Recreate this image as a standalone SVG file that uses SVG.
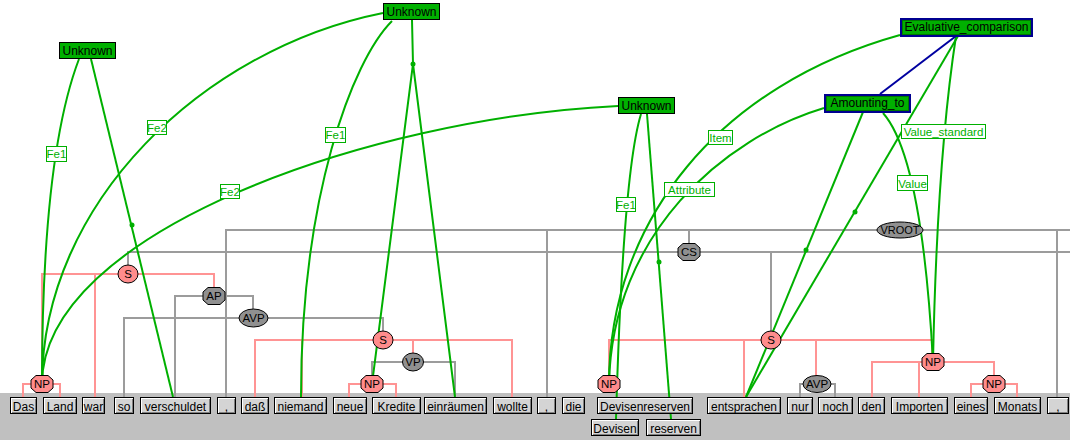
<svg xmlns="http://www.w3.org/2000/svg" xmlns:xlink="http://www.w3.org/1999/xlink" width="1070" height="440" viewBox="0 0 1070 440">
<style>
text{font-family:"Liberation Sans",Arial,sans-serif;text-anchor:middle}
.gl{stroke:#9c9c9c;stroke-width:2;fill:none}
.pl{stroke:#ff9494;stroke-width:2;fill:none}
.fe{stroke:#00b000;stroke-width:2;fill:none}
.dot{fill:#00b000}
.wo{fill:#fff;stroke:#000;stroke-width:1}
.ws{fill:#808080}
.wi{fill:#d4d4d4}
.wt{font-size:12px;fill:#000}
.pn{fill:#ff8c8c;stroke:#000;stroke-width:1}
.gn{fill:#909090;stroke:#000;stroke-width:1}
.nt{font-size:11.5px;fill:#000}
.fb{fill:#00b000;stroke:#000;stroke-width:1}
.fbb{fill:#00b000;stroke:#000090;stroke-width:2}
.fbi{fill:none;stroke:#007800;stroke-width:1}
.ft{font-size:12px;fill:#000}
.lb{fill:#fff;stroke:#00b000;stroke-width:1}
.lt{font-size:11.5px;fill:#00b000}
</style>
<defs>
<polygon id="oct" points="-6,-8.5 6,-8.5 11,-4 11,4 6,8.5 -6,8.5 -11,4 -11,-4"/>
</defs>
<rect x="0" y="0" width="1070" height="440" fill="#fff"/>
<rect x="0" y="393" width="1070" height="47" fill="#c0c0c0"/>

<g id="tree-edges">
<path class="gl" d="M226,397 V230 H1070 M547,230 V397 M1057,230 V397"/>
<path class="gl" d="M689,230 V252 M128,274 V252 H1070 M771,252 V340"/>
<path class="gl" d="M175,397 V296 H253 V318 M124,397 V318 H383 V340"/>
<path class="gl" d="M372,384 V362 H455 V397"/>
<path class="gl" d="M800,397 V384 H835 V397"/>
<path class="pl" d="M42,384 V274 H214 V296 M95,274 V397"/>
<path class="pl" d="M23,397 V384 H60 V397"/>
<path class="pl" d="M255,397 V340 H512 V397 M302,340 V397 M413,340 V362"/>
<path class="pl" d="M349,397 V384 H396 V397"/>
<path class="pl" d="M609,384 V340 H932 V362 M744,340 V397 M816,340 V384"/>
<path class="pl" d="M872,397 V362 H994 V384 M919,362 V397"/>
<path class="pl" d="M971,397 V384 H1017 V397"/>
</g>

<g id="frame-edges">
<path class="fe" d="M79,59 Q42,156 42,384"/>
<path class="fe" d="M91,59 L173,397"/>
<circle class="dot" cx="132" cy="225" r="2.5"/>
<path class="fe" d="M383,13 C203,49 42,203 42,384"/>
<path class="fe" d="M392,21 C352,61 301,197 301,397"/>
<path class="fe" d="M412,20 L413,64 L372,384 M413,64 L455,397"/>
<circle class="dot" cx="413" cy="64" r="2.5"/>
<path class="fe" d="M618,106 C368,118 42,233 42,384"/>
<path class="fe" d="M641,114 Q623,173 616,419"/>
<path class="fe" d="M647,114 L671,419"/>
<circle class="dot" cx="659" cy="262" r="2.5"/>
<path class="fe" d="M824,108 C724,138 612,233 609,384"/>
<path class="fe" d="M900,35 C720,85 609,220 609,384"/>
<path class="fe" d="M863,112 L746,397"/>
<circle class="dot" cx="806" cy="250" r="2.5"/>
<path class="fe" d="M958,36 L746,397"/>
<circle class="dot" cx="855" cy="212" r="2.5"/>
<path class="fe" d="M883,113 Q922,157 933,362"/>
<path class="fe" d="M956,36 Q937,160 933,362"/>
<path d="M956,36 L880,94" stroke="#0000a0" stroke-width="2" fill="none"/>
</g>

<g id="words">
<g id="w-Das"><rect class="wo" x="10.5" y="397.5" width="26" height="16"/><rect class="ws" x="12" y="399" width="24" height="14"/><rect class="wi" x="12" y="399" width="23" height="13"/><text class="wt" x="23.5" y="410.5">Das</text></g>
<g id="w-Land"><rect class="wo" x="43.5" y="397.5" width="33" height="16"/><rect class="ws" x="45" y="399" width="31" height="14"/><rect class="wi" x="45" y="399" width="30" height="13"/><text class="wt" x="60" y="410.5">Land</text></g>
<g id="w-war"><rect class="wo" x="82.5" y="397.5" width="22" height="16"/><rect class="ws" x="84" y="399" width="20" height="14"/><rect class="wi" x="84" y="399" width="19" height="13"/><text class="wt" x="93.5" y="410.5">war</text></g>
<g id="w-so"><rect class="wo" x="114.5" y="397.5" width="19" height="16"/><rect class="ws" x="116" y="399" width="17" height="14"/><rect class="wi" x="116" y="399" width="16" height="13"/><text class="wt" x="124" y="410.5">so</text></g>
<g id="w-verschuldet"><rect class="wo" x="140.5" y="397.5" width="70" height="16"/><rect class="ws" x="142" y="399" width="68" height="14"/><rect class="wi" x="142" y="399" width="67" height="13"/><text class="wt" x="175.5" y="410.5">verschuldet</text></g>
<g id="w-comma1"><rect class="wo" x="217.5" y="397.5" width="18" height="16"/><rect class="ws" x="219" y="399" width="16" height="14"/><rect class="wi" x="219" y="399" width="15" height="13"/><text class="wt" x="226.5" y="410.5">,</text></g>
<g id="w-dass"><rect class="wo" x="241.5" y="397.5" width="27" height="16"/><rect class="ws" x="243" y="399" width="25" height="14"/><rect class="wi" x="243" y="399" width="24" height="13"/><text class="wt" x="255" y="410.5">daß</text></g>
<g id="w-niemand"><rect class="wo" x="274.5" y="397.5" width="52" height="16"/><rect class="ws" x="276" y="399" width="50" height="14"/><rect class="wi" x="276" y="399" width="49" height="13"/><text class="wt" x="300.5" y="410.5">niemand</text></g>
<g id="w-neue"><rect class="wo" x="333.5" y="397.5" width="33" height="16"/><rect class="ws" x="335" y="399" width="31" height="14"/><rect class="wi" x="335" y="399" width="30" height="13"/><text class="wt" x="350" y="410.5">neue</text></g>
<g id="w-Kredite"><rect class="wo" x="372.5" y="397.5" width="48" height="16"/><rect class="ws" x="374" y="399" width="46" height="14"/><rect class="wi" x="374" y="399" width="45" height="13"/><text class="wt" x="396.5" y="410.5">Kredite</text></g>
<g id="w-einraeumen"><rect class="wo" x="424.5" y="397.5" width="62" height="16"/><rect class="ws" x="426" y="399" width="60" height="14"/><rect class="wi" x="426" y="399" width="59" height="13"/><text class="wt" x="455.5" y="410.5">einräumen</text></g>
<g id="w-wollte"><rect class="wo" x="493.5" y="397.5" width="38" height="16"/><rect class="ws" x="495" y="399" width="36" height="14"/><rect class="wi" x="495" y="399" width="35" height="13"/><text class="wt" x="512.5" y="410.5">wollte</text></g>
<g id="w-comma2"><rect class="wo" x="537.5" y="397.5" width="18" height="16"/><rect class="ws" x="539" y="399" width="16" height="14"/><rect class="wi" x="539" y="399" width="15" height="13"/><text class="wt" x="546.5" y="410.5">,</text></g>
<g id="w-die"><rect class="wo" x="562.5" y="397.5" width="22" height="16"/><rect class="ws" x="564" y="399" width="20" height="14"/><rect class="wi" x="564" y="399" width="19" height="13"/><text class="wt" x="573.5" y="410.5">die</text></g>
<g id="w-Devisenreserven"><rect class="wo" x="597.5" y="397.5" width="95" height="16"/><rect class="ws" x="599" y="399" width="93" height="14"/><rect class="wi" x="599" y="399" width="92" height="13"/><text class="wt" x="645" y="410.5">Devisenreserven</text></g>
<g id="w-entsprachen"><rect class="wo" x="707.5" y="397.5" width="73" height="16"/><rect class="ws" x="709" y="399" width="71" height="14"/><rect class="wi" x="709" y="399" width="70" height="13"/><text class="wt" x="744" y="410.5">entsprachen</text></g>
<g id="w-nur"><rect class="wo" x="787.5" y="397.5" width="25" height="16"/><rect class="ws" x="789" y="399" width="23" height="14"/><rect class="wi" x="789" y="399" width="22" height="13"/><text class="wt" x="800" y="410.5">nur</text></g>
<g id="w-noch"><rect class="wo" x="818.5" y="397.5" width="34" height="16"/><rect class="ws" x="820" y="399" width="32" height="14"/><rect class="wi" x="820" y="399" width="31" height="13"/><text class="wt" x="835.5" y="410.5">noch</text></g>
<g id="w-den"><rect class="wo" x="858.5" y="397.5" width="26" height="16"/><rect class="ws" x="860" y="399" width="24" height="14"/><rect class="wi" x="860" y="399" width="23" height="13"/><text class="wt" x="871.5" y="410.5">den</text></g>
<g id="w-Importen"><rect class="wo" x="891.5" y="397.5" width="56" height="16"/><rect class="ws" x="893" y="399" width="54" height="14"/><rect class="wi" x="893" y="399" width="53" height="13"/><text class="wt" x="919.5" y="410.5">Importen</text></g>
<g id="w-eines"><rect class="wo" x="954.5" y="397.5" width="33" height="16"/><rect class="ws" x="956" y="399" width="31" height="14"/><rect class="wi" x="956" y="399" width="30" height="13"/><text class="wt" x="971" y="410.5">eines</text></g>
<g id="w-Monats"><rect class="wo" x="994.5" y="397.5" width="46" height="16"/><rect class="ws" x="996" y="399" width="44" height="14"/><rect class="wi" x="996" y="399" width="43" height="13"/><text class="wt" x="1017.5" y="410.5">Monats</text></g>
<g id="w-comma3"><rect class="wo" x="1047.5" y="397.5" width="21" height="16"/><rect class="ws" x="1049" y="399" width="19" height="14"/><rect class="wi" x="1049" y="399" width="18" height="13"/><text class="wt" x="1058" y="410.5">,</text></g>
<g id="w-Devisen"><rect class="wo" x="591.5" y="419.5" width="47" height="16"/><rect class="ws" x="593" y="421" width="45" height="14"/><rect class="wi" x="593" y="421" width="44" height="13"/><text class="wt" x="615" y="432.5">Devisen</text></g>
<g id="w-reserven"><rect class="wo" x="646.5" y="419.5" width="54" height="16"/><rect class="ws" x="648" y="421" width="52" height="14"/><rect class="wi" x="648" y="421" width="51" height="13"/><text class="wt" x="673.5" y="432.5">reserven</text></g>
</g>

<g id="n-NP1"><use href="#oct" xlink:href="#oct" class="pn" x="42" y="384"/><text class="nt" x="42" y="388">NP</text></g>
<g id="n-NP2"><use href="#oct" xlink:href="#oct" class="pn" x="372" y="384"/><text class="nt" x="372" y="388">NP</text></g>
<g id="n-NP3"><use href="#oct" xlink:href="#oct" class="pn" x="609" y="384"/><text class="nt" x="609" y="388">NP</text></g>
<g id="n-NP4"><use href="#oct" xlink:href="#oct" class="pn" x="933" y="362"/><text class="nt" x="933" y="366">NP</text></g>
<g id="n-NP5"><use href="#oct" xlink:href="#oct" class="pn" x="994" y="384"/><text class="nt" x="994" y="388">NP</text></g>
<g id="n-S1"><ellipse class="pn" cx="128" cy="274" rx="10" ry="9"/><text class="nt" x="128" y="278">S</text></g>
<g id="n-S2"><ellipse class="pn" cx="383" cy="340" rx="10" ry="9"/><text class="nt" x="383" y="344">S</text></g>
<g id="n-S3"><ellipse class="pn" cx="771" cy="340" rx="10" ry="9"/><text class="nt" x="771" y="344">S</text></g>
<g id="n-AP"><use href="#oct" xlink:href="#oct" class="gn" x="214" y="296"/><text class="nt" x="214" y="300">AP</text></g>
<g id="n-AVP1"><ellipse class="gn" cx="253.5" cy="318" rx="14.5" ry="9"/><text class="nt" x="253.5" y="322">AVP</text></g>
<g id="n-VP"><ellipse class="gn" cx="413" cy="362" rx="10.5" ry="9"/><text class="nt" x="413" y="366">VP</text></g>
<g id="n-CS"><use href="#oct" xlink:href="#oct" class="gn" x="689" y="252"/><text class="nt" x="689" y="256">CS</text></g>
<g id="n-AVP2"><ellipse class="gn" cx="817" cy="384" rx="14" ry="8.5"/><text class="nt" x="817" y="388">AVP</text></g>
<g id="n-VROOT"><ellipse class="gn" cx="900" cy="230" rx="23" ry="8"/><text class="nt" x="900" y="234" style="font-size:11px">VROOT</text></g>

<g id="f-Unknown1"><rect class="fb" x="59.5" y="42.5" width="56" height="16"/><text class="ft" x="87.5" y="54.5">Unknown</text></g>
<g id="f-Unknown2"><rect class="fb" x="383.5" y="3.5" width="56" height="16"/><text class="ft" x="411.5" y="16">Unknown</text></g>
<g id="f-Unknown3"><rect class="fb" x="618.5" y="97.5" width="56" height="16"/><text class="ft" x="646.5" y="110">Unknown</text></g>
<g id="f-Evaluative_comparison"><rect class="fbb" x="901" y="19" width="131" height="17"/><rect class="fbi" x="902.5" y="20.5" width="128" height="14"/><text class="ft" x="966.5" y="30.5">Evaluative_comparison</text></g>
<g id="f-Amounting_to"><rect class="fbb" x="825" y="95" width="85" height="17"/><rect class="fbi" x="826.5" y="96.5" width="82" height="14"/><text class="ft" x="867.5" y="106.5">Amounting_to</text></g>

<g id="labels">
<rect class="lb" x="46.5" y="146.5" width="20" height="15"/><text class="lt" x="56.5" y="158.3">Fe1</text>
<rect class="lb" x="147.5" y="120.5" width="19" height="14"/><text class="lt" x="157" y="132">Fe2</text>
<rect class="lb" x="325.5" y="127.5" width="20" height="15"/><text class="lt" x="335.5" y="139.3">Fe1</text>
<rect class="lb" x="220.5" y="184.5" width="19" height="14"/><text class="lt" x="230" y="196">Fe2</text>
<rect class="lb" x="616.5" y="197.5" width="19" height="14"/><text class="lt" x="626" y="209">Fe1</text>
<rect class="lb" x="664.5" y="182.5" width="50" height="14"/><text class="lt" x="689.5" y="194">Attribute</text>
<rect class="lb" x="708.5" y="130.5" width="24" height="14"/><text class="lt" x="720.5" y="142">Item</text>
<rect class="lb" x="901.5" y="124.5" width="84" height="14"/><text class="lt" x="943.5" y="136">Value_standard</text>
<rect class="lb" x="897.5" y="175.5" width="30" height="15"/><text class="lt" x="912.5" y="187.5">Value</text>
</g>
</svg>
